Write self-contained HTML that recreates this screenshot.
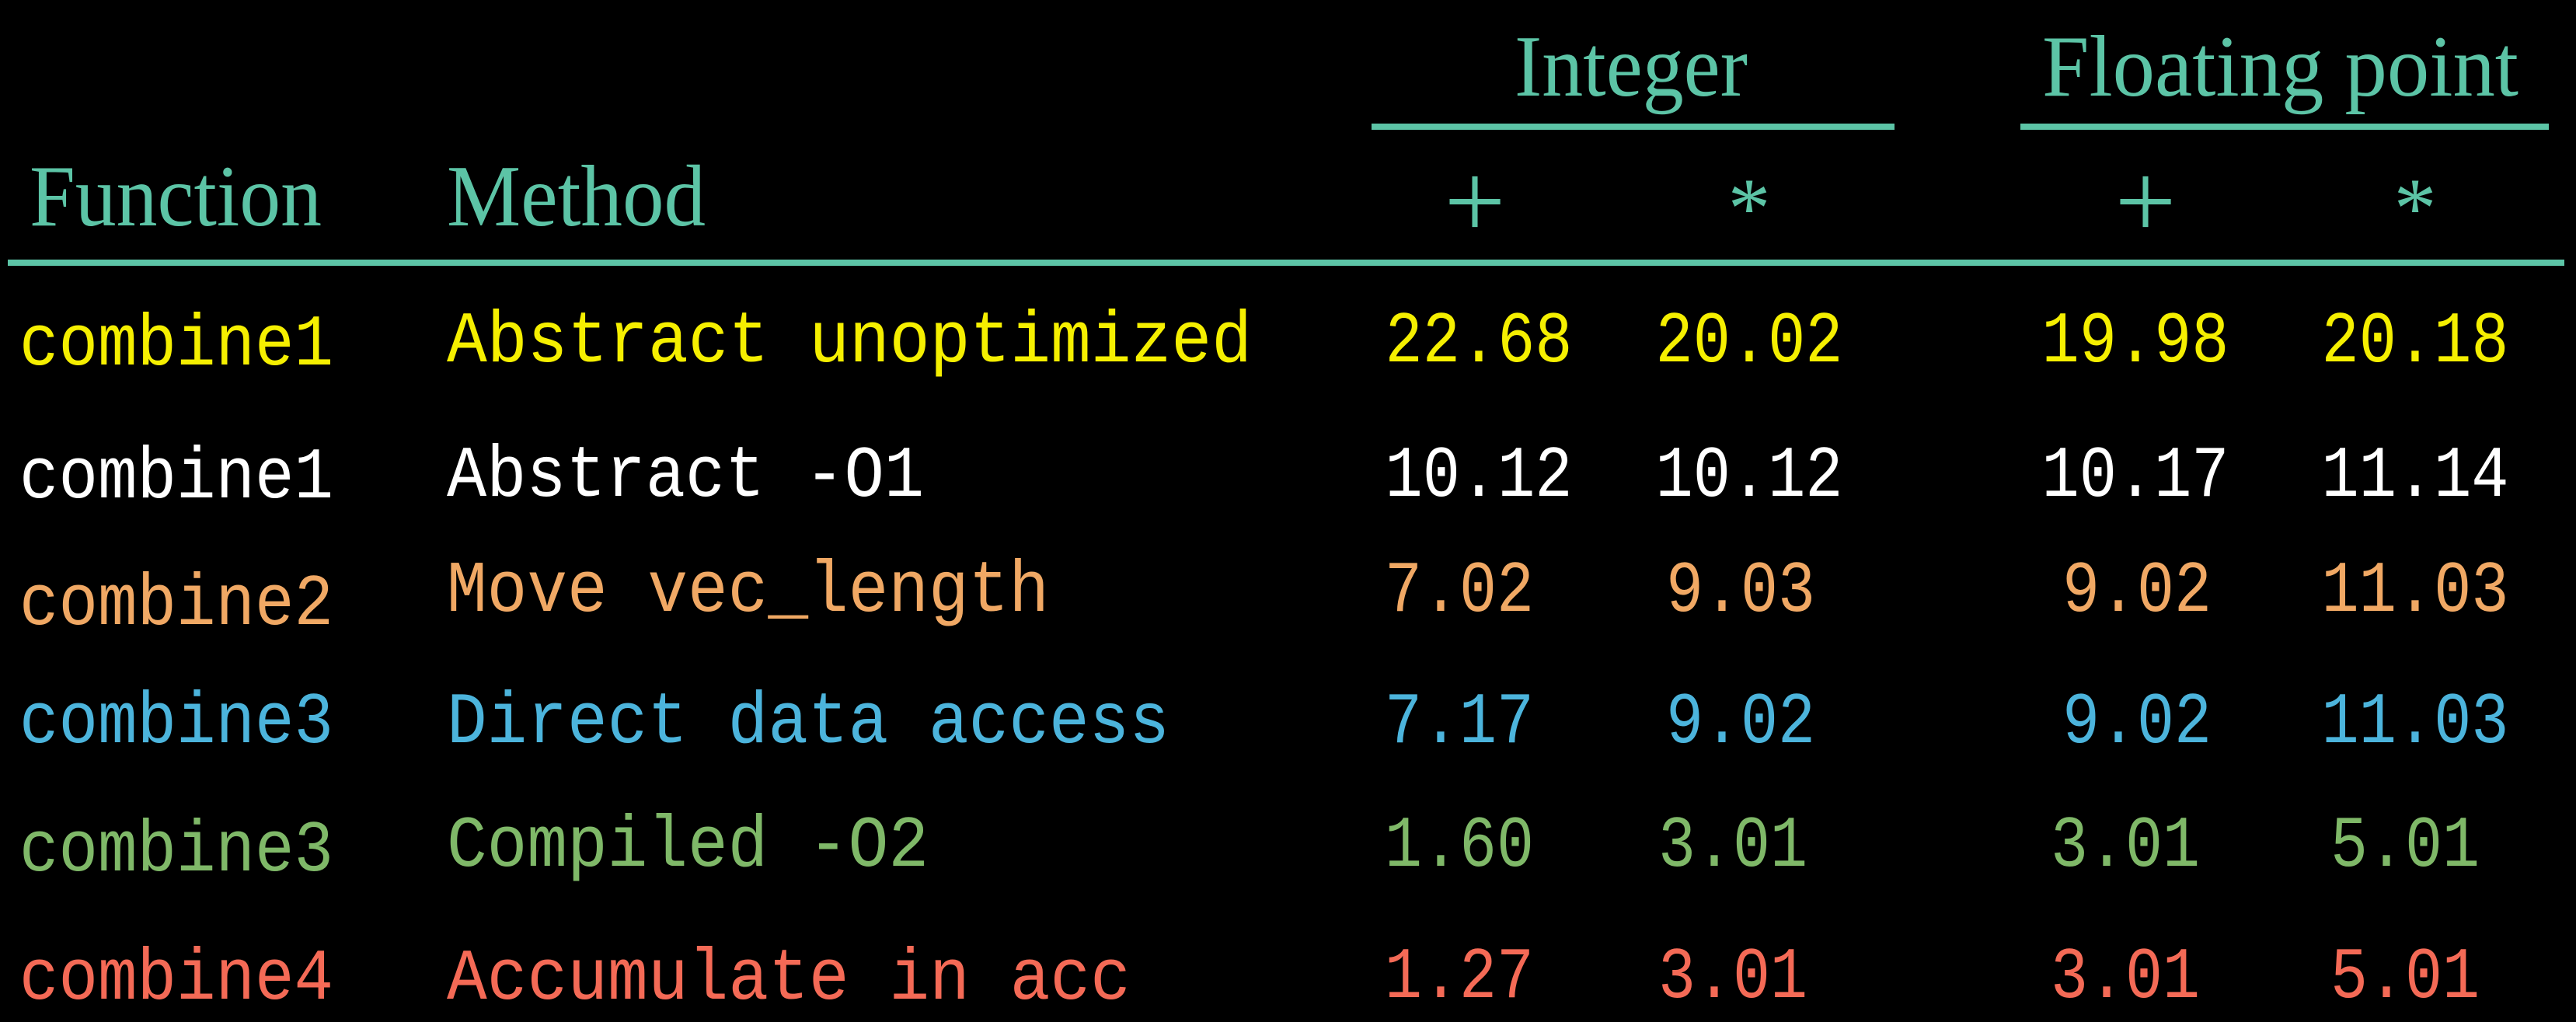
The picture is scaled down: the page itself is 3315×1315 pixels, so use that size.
<!DOCTYPE html>
<html><head><meta charset="utf-8"><style>
html,body{margin:0;padding:0;background:#000;}
svg{display:block}
.h{font-family:"Liberation Serif",serif;fill:#5cc4a6;font-size:112px}
.m{font-family:"Liberation Mono",monospace;font-size:94px}
.n{font-family:"Liberation Mono",monospace;font-size:94px;text-anchor:middle}
</style></head><body>
<svg width="3315" height="1315" viewBox="0 0 3315 1315" xmlns="http://www.w3.org/2000/svg">
<rect width="3315" height="1315" fill="#000"/>
<text class="h" x="1949" y="123" textLength="300" lengthAdjust="spacingAndGlyphs">Integer</text>
<text class="h" x="2628" y="123" textLength="613" lengthAdjust="spacingAndGlyphs">Floating point</text>
<rect x="1765" y="159" width="673" height="8" fill="#5cc4a6"/>
<rect x="2600" y="159" width="680" height="8" fill="#5cc4a6"/>
<text class="h" x="38" y="290" textLength="376" lengthAdjust="spacingAndGlyphs">Function</text>
<text class="h" x="575" y="290" textLength="333" lengthAdjust="spacingAndGlyphs">Method</text>
<g class="h" style="text-anchor:middle;font-size:140px;font-weight:100">
<text x="1898" y="306">+</text><text x="2761" y="306">+</text>
</g>
<g class="h" style="text-anchor:middle;font-size:110px">
<text x="2251" y="305">*</text><text x="3108" y="305">*</text>
</g>
<rect x="10" y="334" width="3290" height="8" fill="#5cc4a6"/>

<g fill="#f5ef00">
<text class="m" x="25" y="469" textLength="404" lengthAdjust="spacingAndGlyphs">combine1</text>
<text class="m" x="575" y="465" textLength="1036" lengthAdjust="spacingAndGlyphs">Abstract unoptimized</text>
<text class="n" x="1903" y="465" textLength="241" lengthAdjust="spacingAndGlyphs">22.68</text><text class="n" x="2251" y="465" textLength="241" lengthAdjust="spacingAndGlyphs">20.02</text>
<text class="n" x="2748" y="465" textLength="241" lengthAdjust="spacingAndGlyphs">19.98</text><text class="n" x="3108" y="465" textLength="241" lengthAdjust="spacingAndGlyphs">20.18</text>
</g>
<g fill="#ffffff">
<text class="m" x="25" y="640" textLength="404" lengthAdjust="spacingAndGlyphs">combine1</text>
<text class="m" x="575" y="638" textLength="614" lengthAdjust="spacingAndGlyphs">Abstract -O1</text>
<text class="n" x="1903" y="638" textLength="241" lengthAdjust="spacingAndGlyphs">10.12</text><text class="n" x="2251" y="638" textLength="241" lengthAdjust="spacingAndGlyphs">10.12</text>
<text class="n" x="2748" y="638" textLength="241" lengthAdjust="spacingAndGlyphs">10.17</text><text class="n" x="3108" y="638" textLength="241" lengthAdjust="spacingAndGlyphs">11.14</text>
</g>
<g fill="#f0a864">
<text class="m" x="25" y="803" textLength="404" lengthAdjust="spacingAndGlyphs">combine2</text>
<text class="m" x="575" y="786" textLength="775" lengthAdjust="spacingAndGlyphs">Move vec_length</text>
<text class="n" x="1878" y="786" textLength="192" lengthAdjust="spacingAndGlyphs">7.02</text><text class="n" x="2240" y="786" textLength="192" lengthAdjust="spacingAndGlyphs">9.03</text>
<text class="n" x="2750" y="786" textLength="192" lengthAdjust="spacingAndGlyphs">9.02</text><text class="n" x="3108" y="786" textLength="241" lengthAdjust="spacingAndGlyphs">11.03</text>
</g>
<g fill="#4cb4dc">
<text class="m" x="25" y="955" textLength="404" lengthAdjust="spacingAndGlyphs">combine3</text>
<text class="m" x="575" y="955" textLength="930" lengthAdjust="spacingAndGlyphs">Direct data access</text>
<text class="n" x="1878" y="955" textLength="192" lengthAdjust="spacingAndGlyphs">7.17</text><text class="n" x="2240" y="955" textLength="192" lengthAdjust="spacingAndGlyphs">9.02</text>
<text class="n" x="2750" y="955" textLength="192" lengthAdjust="spacingAndGlyphs">9.02</text><text class="n" x="3108" y="955" textLength="241" lengthAdjust="spacingAndGlyphs">11.03</text>
</g>
<g fill="#7fb868">
<text class="m" x="25" y="1120" textLength="404" lengthAdjust="spacingAndGlyphs">combine3</text>
<text class="m" x="575" y="1114" textLength="620" lengthAdjust="spacingAndGlyphs">Compiled -O2</text>
<text class="n" x="1878" y="1114" textLength="192" lengthAdjust="spacingAndGlyphs">1.60</text><text class="n" x="2230" y="1114" textLength="192" lengthAdjust="spacingAndGlyphs">3.01</text>
<text class="n" x="2735" y="1114" textLength="192" lengthAdjust="spacingAndGlyphs">3.01</text><text class="n" x="3095" y="1114" textLength="192" lengthAdjust="spacingAndGlyphs">5.01</text>
</g>
<g fill="#f46a56">
<text class="m" x="25" y="1285" textLength="404" lengthAdjust="spacingAndGlyphs">combine4</text>
<text class="m" x="575" y="1285" textLength="880" lengthAdjust="spacingAndGlyphs">Accumulate in acc</text>
<text class="n" x="1878" y="1283" textLength="192" lengthAdjust="spacingAndGlyphs">1.27</text><text class="n" x="2230" y="1283" textLength="192" lengthAdjust="spacingAndGlyphs">3.01</text>
<text class="n" x="2735" y="1283" textLength="192" lengthAdjust="spacingAndGlyphs">3.01</text><text class="n" x="3095" y="1283" textLength="192" lengthAdjust="spacingAndGlyphs">5.01</text>
</g>
</svg>
</body></html>
